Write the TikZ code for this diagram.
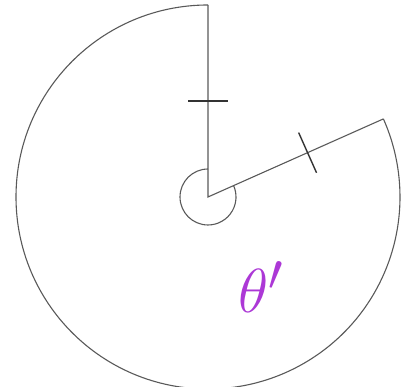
\documentclass[tikz,border=0pt]{standalone}
\usetikzlibrary{positioning}

\definecolor{thetapurple}{RGB}{172,56,214}

\begin{document}
\begin{tikzpicture}[
    x=1pt, y=1pt,
    spoke/.style={draw=black!65, line width=1.1pt},
    tickmark/.style={draw=black!80, line width=1.4pt},
    anglelabel/.style={text=thetapurple, font=\Huge, scale=2.5, transform shape}
  ]
    \useasboundingbox (0,0) rectangle (405,387);
    \coordinate (o) at (208,190);
    \coordinate (a) at ([shift={(o)}]90:192);
    \coordinate (b) at ([shift={(o)}]24:192);
    % the two radii and the big arc
    \draw[spoke] (a) -- (o) -- (b);
    \draw[spoke] (a) arc[start angle=90, end angle=384, radius=192];
    % small angle arc
    \draw[spoke] ([shift={(o)}]90:28) arc[start angle=90, end angle=384, radius=28];
    % equal-length ticks
    \draw[tickmark] ([shift={(o)}]-20,96) -- ([shift={(o)}]20,96);
    \draw[tickmark] ([shift={(o)}]24:109) ++(114:22) -- ++(294:44);
    \node[anglelabel] (th) at (261,100) {$\theta'$};
  \end{tikzpicture}
\end{document}
